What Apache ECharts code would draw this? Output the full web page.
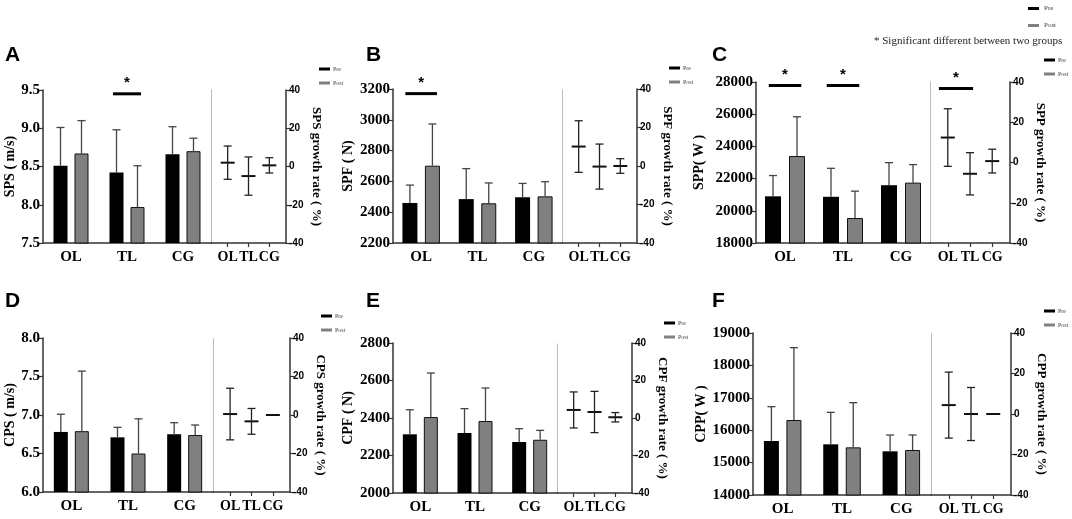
<!DOCTYPE html>
<html>
<head>
<meta charset="utf-8">
<script src="https://cdn.jsdelivr.net/npm/echarts@6/dist/echarts.min.js"></script>
<style>
html, body { margin: 0; padding: 0; background: #fff; }
#chart { width: 1072px; height: 519px; }
</style>
</head>
<body>
<div id="chart"></div>
<script>
var groups = ['OL', 'TL', 'CG']

// A - SPS (m/s)
var spsPre = [8.51, 8.42, 8.66]
var spsPreSD = [0.50, 0.56, 0.36]
var spsPost = [8.67, 7.97, 8.70]
var spsPostSD = [0.43, 0.54, 0.17]
var spsRate = [2.0, -5.0, 0.6]
var spsRateSD = [8.7, 10.0, 4.0]
var spsSig = [[1, 0.25, 9.45]]
var spsRateSig = []

// B - SPF (N)
var spfPre = [2460, 2485, 2497]
var spfPreSD = [116, 198, 90]
var spfPost = [2702, 2458, 2503]
var spfPostSD = [271, 132, 95]
var spfRate = [10.1, -0.3, 0]
var spfRateSD = [13.4, 11.7, 3.8]
var spfSig = [[0, 0.28, 3170]]
var spfRateSig = []

// C - SPP (W)
var sppPre = [20900, 20870, 21590]
var sppPreSD = [1290, 1770, 1400]
var sppPost = [23400, 19550, 21750]
var sppPostSD = [2440, 1670, 1120]
var sppRate = [12.4, -5.6, 0.7]
var sppRateSD = [14.3, 10.5, 5.9]
var sppSig = [[0, 0.28, 27780], [1, 0.28, 27780]]
var sppRateSig = [[0.37, 0.77, 36.8]]

// D - CPS (m/s)
var cpsPre = [6.78, 6.71, 6.75]
var cpsPreSD = [0.23, 0.13, 0.15]
var cpsPost = [6.79, 6.50, 6.74]
var cpsPostSD = [0.78, 0.45, 0.13]
var cpsRate = [0.5, -3.3, 0]
var cpsRateSD = [13.4, 6.7, 0]

// E - CPF (N)
var cpfPre = [2313, 2320, 2272]
var cpfPreSD = [131, 130, 71]
var cpfPost = [2405, 2384, 2284]
var cpfPostSD = [235, 176, 50]
var cpfRate = [4.3, 3.2, 0.4]
var cpfRateSD = [9.6, 11.0, 2.5]

// F - CPP (W)
var cppPre = [15667, 15564, 15348]
var cppPreSD = [1059, 987, 504]
var cppPost = [16315, 15471, 15389]
var cppPostSD = [2232, 1379, 463]
var cppRate = [4.4, 0, 0]
var cppRateSD = [16.3, 13.1, 0]

var rateTicks = [-40, 20]   // min, interval

var serif = '"Liberation Serif", "Times New Roman", serif'
var sans = '"Liberation Sans", Arial, sans-serif'
var axisColor = '#333'

var panels = [
    {tag: 'A', name: 'SPS ( m/s)', rateName: 'SPS growth rate ( %)', pre: spsPre, preSD: spsPreSD, post: spsPost, postSD: spsPostSD,
     rate: spsRate, rateSD: spsRateSD, sig: spsSig, rateSig: spsRateSig, min: 7.5, max: 9.5, step: 0.5, dec: 1,
     x0: 43, split: 211, x1: 286, top: 90, bottom: 243, gap: 25, legend: [314, 61], letter: [5, 45], barW: 14},
    {tag: 'B', name: 'SPF ( N)', rateName: 'SPF growth rate ( %)', pre: spfPre, preSD: spfPreSD, post: spfPost, postSD: spfPostSD,
     rate: spfRate, rateSD: spfRateSD, sig: spfSig, rateSig: spfRateSig, min: 2200, max: 3200, step: 200, dec: 0,
     x0: 393, split: 562, x1: 637, top: 89, bottom: 243, gap: 38, legend: [664, 60], letter: [366, 45], barW: 15},
    {tag: 'C', name: 'SPP( W )', rateName: 'SPP growth rate ( %)', pre: sppPre, preSD: sppPreSD, post: sppPost, postSD: sppPostSD,
     rate: sppRate, rateSD: sppRateSD, sig: sppSig, rateSig: sppRateSig, min: 18000, max: 28000, step: 2000, dec: 0,
     x0: 756, split: 930, x1: 1010, top: 82, bottom: 243, gap: 50, legend: [1039, 52], letter: [712, 45], barW: 16},
    {tag: 'D', name: 'CPS ( m/s)', rateName: 'CPS growth rate ( %)', pre: cpsPre, preSD: cpsPreSD, post: cpsPost, postSD: cpsPostSD,
     rate: cpsRate, rateSD: cpsRateSD, sig: [], rateSig: [], min: 6, max: 8, step: 0.5, dec: 1,
     x0: 43, split: 213, x1: 290, top: 338, bottom: 492, gap: 25, legend: [316, 308], letter: [5, 291], barW: 14},
    {tag: 'E', name: 'CPF ( N)', rateName: 'CPF growth rate ( %)', pre: cpfPre, preSD: cpfPreSD, post: cpfPost, postSD: cpfPostSD,
     rate: cpfRate, rateSD: cpfRateSD, sig: [], rateSig: [], min: 2000, max: 2800, step: 200, dec: 0,
     x0: 393, split: 557, x1: 632, top: 343, bottom: 493, gap: 38, legend: [659, 315], letter: [366, 291], barW: 14},
    {tag: 'F', name: 'CPP( W )', rateName: 'CPP growth rate ( %)', pre: cppPre, preSD: cppPreSD, post: cppPost, postSD: cppPostSD,
     rate: cppRate, rateSD: cppRateSD, sig: [], rateSig: [], min: 14000, max: 19000, step: 1000, dec: 0,
     x0: 753, split: 931, x1: 1011, top: 333, bottom: 495, gap: 45, legend: [1039, 303], letter: [712, 291], barW: 15}
]

function zip3(a, b) {
    return a.map(function (v, i) { return [i, v, b[i]] })
}

// whisker going up from a bar top, shifted to the bar's centre
function barErr(offset) {
    return function (params, api) {
        var i = api.value(0), m = api.value(1), sd = api.value(2)
        var base = api.coord([i, m])
        var top = api.coord([i, m + sd])
        var x = base[0] + offset
        var st = {stroke: '#444', lineWidth: 1.3}
        return {type: 'group', children: [
            {type: 'line', shape: {x1: x, y1: base[1], x2: x, y2: top[1]}, style: st},
            {type: 'line', shape: {x1: x - 4, y1: top[1], x2: x + 4, y2: top[1]}, style: st}
        ]}
    }
}

function rateErr(params, api) {
    var i = api.value(0), m = api.value(1), sd = api.value(2)
    var c = api.coord([i, m])
    var hi = api.coord([i, m + sd])
    var lo = api.coord([i, m - sd])
    var st = {stroke: '#222', lineWidth: 1.3}
    var kids = [
        {type: 'line', shape: {x1: c[0] - 7, y1: c[1], x2: c[0] + 7, y2: c[1]}, style: {stroke: '#111', lineWidth: 2}}
    ]
    if (sd > 0) {
        kids.push({type: 'line', shape: {x1: c[0], y1: hi[1], x2: c[0], y2: lo[1]}, style: st})
        kids.push({type: 'line', shape: {x1: c[0] - 4, y1: hi[1], x2: c[0] + 4, y2: hi[1]}, style: st})
        kids.push({type: 'line', shape: {x1: c[0] - 4, y1: lo[1], x2: c[0] + 4, y2: lo[1]}, style: st})
    }
    return {type: 'group', children: kids}
}

function sigMark(params, api) {
    var c = api.coord([api.value(0), api.value(2)])
    var w = api.size([1, 0])[0] * api.value(1)
    return {type: 'group', children: [
        {type: 'line', shape: {x1: c[0] - w, y1: c[1], x2: c[0] + w, y2: c[1]}, style: {stroke: '#000', lineWidth: 3}},
        {type: 'text', x: c[0], y: c[1] - 3, style: {text: '*', fill: '#000', font: 'bold 15px ' + sans, align: 'center', verticalAlign: 'bottom'}}
    ]}
}

var grid = [], xAxis = [], yAxis = [], series = [], legend = [], graphic = []

panels.forEach(function (p, k) {
    var h = p.bottom - p.top
    grid.push({left: p.x0, top: p.top, width: p.split - p.x0, height: h})
    grid.push({left: p.split, top: p.top, width: p.x1 - p.split, height: h})

    var xLine = {show: true, onZero: false, lineStyle: {color: axisColor, width: 1.5}}
    var xTick = {length: 4, lineStyle: {color: axisColor, width: 1.2}}
    xAxis.push({type: 'category', gridIndex: 2 * k, data: groups, axisLine: xLine,
        axisTick: Object.assign({alignWithLabel: true}, xTick),
        axisLabel: {color: '#000', fontFamily: serif, fontWeight: 'bold', fontSize: 15, margin: 7}})
    xAxis.push({type: 'value', gridIndex: 2 * k + 1, min: -0.8, max: 2.8, axisLine: xLine, splitLine: {show: false},
        axisTick: Object.assign({customValues: [0, 1, 2]}, xTick),
        axisLabel: {customValues: [0, 1, 2], showMinLabel: true, showMaxLabel: true, hideOverlap: false,
            formatter: function (v) { return groups[Math.round(v)] },
            color: '#000', fontFamily: serif, fontWeight: 'bold', fontSize: 14, margin: 7}})

    yAxis.push({type: 'value', gridIndex: 2 * k, min: p.min, max: p.max, interval: p.step,
        name: p.name, nameLocation: 'middle', nameGap: p.gap, nameRotate: 90,
        nameTextStyle: {color: '#000', fontFamily: serif, fontWeight: 'bold', fontSize: 14},
        axisLine: {show: true, onZero: false, lineStyle: {color: axisColor, width: 1.5}},
        axisTick: {show: true, length: 4, lineStyle: {color: axisColor, width: 1.2}},
        splitLine: {show: false},
        axisLabel: {color: '#000', fontFamily: serif, fontWeight: 'bold', fontSize: 15, margin: 3,
            formatter: function (v) { return v.toFixed(p.dec) }}})
    yAxis.push({type: 'value', gridIndex: 2 * k + 1, position: 'left', min: rateTicks[0], max: -rateTicks[0],
        axisLine: {show: true, onZero: false, lineStyle: {color: '#aaa', width: 1, type: 'dotted'}},
        axisTick: {show: false}, axisLabel: {show: false}, splitLine: {show: false}})
    yAxis.push({type: 'value', gridIndex: 2 * k + 1, position: 'right', min: rateTicks[0], max: -rateTicks[0], interval: rateTicks[1],
        name: p.rateName, nameLocation: 'middle', nameGap: 24, nameRotate: -90,
        nameTextStyle: {color: '#000', fontFamily: serif, fontWeight: 'bold', fontSize: 13},
        axisLine: {show: true, onZero: false, lineStyle: {color: axisColor, width: 1.5}},
        axisTick: {show: true, length: 4, lineStyle: {color: axisColor, width: 1.2}},
        splitLine: {show: false},
        axisLabel: {color: '#000', fontFamily: sans, fontWeight: 'bold', fontSize: 10, margin: 3}})

    var xb = 2 * k, xr = 2 * k + 1, yl = 3 * k, yr = 3 * k + 2
    series.push({name: 'Pre', type: 'bar', xAxisIndex: xb, yAxisIndex: yl, data: p.pre, barWidth: p.barW, barGap: '50%',
        itemStyle: {color: '#000'}, silent: true})
    series.push({name: 'Post', type: 'bar', xAxisIndex: xb, yAxisIndex: yl, data: p.post, barWidth: p.barW, barGap: '50%',
        itemStyle: {color: '#808080', borderColor: '#111', borderWidth: 1}, silent: true})
    series.push({type: 'custom', xAxisIndex: xb, yAxisIndex: yl, data: zip3(p.pre, p.preSD), renderItem: barErr(-0.75 * p.barW), z: 5, silent: true})
    series.push({type: 'custom', xAxisIndex: xb, yAxisIndex: yl, data: zip3(p.post, p.postSD), renderItem: barErr(0.75 * p.barW), z: 5, silent: true})
    series.push({type: 'custom', xAxisIndex: xr, yAxisIndex: yr, data: zip3(p.rate, p.rateSD), renderItem: rateErr, z: 5, silent: true})
    if (p.sig.length) {
        series.push({type: 'custom', xAxisIndex: xb, yAxisIndex: yl, data: p.sig, renderItem: sigMark, z: 6, silent: true})
    }
    if (p.rateSig.length) {
        series.push({type: 'custom', xAxisIndex: xr, yAxisIndex: yr, data: p.rateSig, renderItem: sigMark, z: 6, silent: true})
    }

    legend.push({data: ['Pre', 'Post'], orient: 'vertical', left: p.legend[0], top: p.legend[1], icon: 'rect',
        itemWidth: 11, itemHeight: 3, itemGap: 8, selectedMode: false, itemStyle: {borderWidth: 0},
        textStyle: {fontFamily: serif, fontSize: 6, color: '#444', padding: [0, 0, 0, -2]}})

    graphic.push({type: 'text', left: p.letter[0], top: p.letter[1],
        style: {text: p.tag, font: 'bold 21px ' + sans, fill: '#000'}})
})

legend.push({data: ['Pre', 'Post'], orient: 'vertical', left: 1023, top: 0, icon: 'rect',
    itemWidth: 11, itemHeight: 3, itemGap: 10, selectedMode: false, itemStyle: {borderWidth: 0},
    textStyle: {fontFamily: serif, fontSize: 7, color: '#444'}})
graphic.push({type: 'text', left: 874, top: 36,
    style: {text: '* Significant different between two groups', font: '11px ' + serif, fill: '#222'}})

var myChart = echarts.init(document.getElementById('chart'))
myChart.setOption({
    animation: false,
    backgroundColor: '#fff',
    grid: grid,
    xAxis: xAxis,
    yAxis: yAxis,
    legend: legend,
    graphic: graphic,
    series: series
})
</script>
</body>
</html>
